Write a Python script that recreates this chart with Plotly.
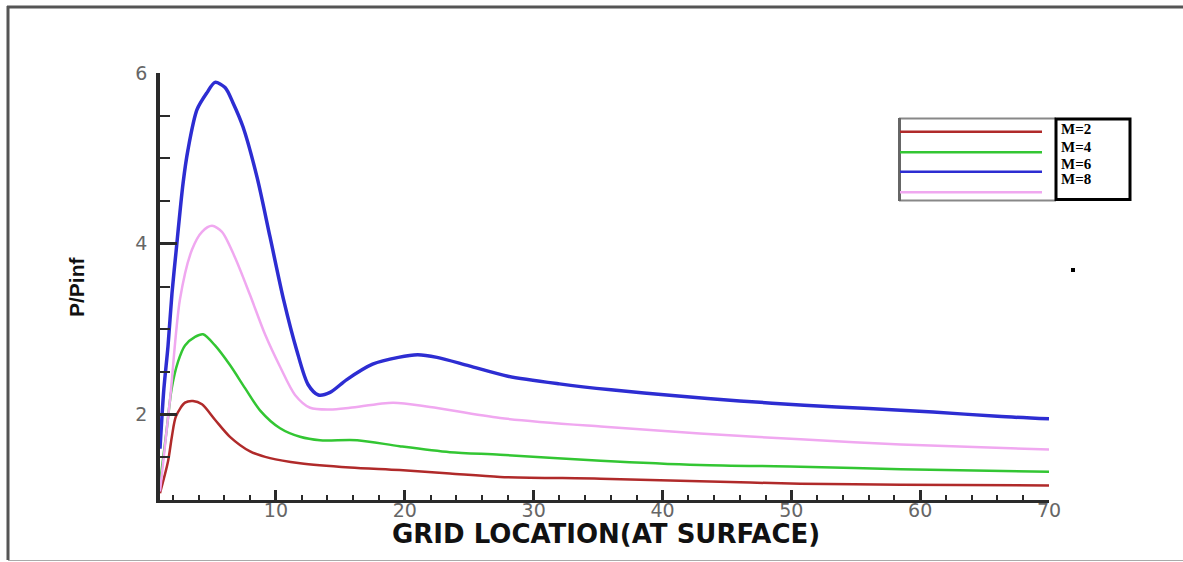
import plotly.graph_objects as go

# ---------------- data ----------------
x_m2 = [1.0, 1.62, 1.93, 2.24, 2.94, 3.56, 4.26, 5.27, 6.43, 7.99, 9.54, 11.87, 15.75, 19.6, 23.5, 27.4, 35.2, 42.9, 50.7, 58.5, 70.0]
y_m2 = [1.08, 1.45, 1.75, 1.98, 2.14, 2.16, 2.12, 1.94, 1.74, 1.57, 1.49, 1.43, 1.38, 1.35, 1.31, 1.27, 1.25, 1.22, 1.19, 1.18, 1.17]

x_m4 = [1.0, 1.5, 1.9, 2.4, 2.94, 3.72, 4.34, 5.27, 6.43, 7.6, 8.76, 10.32, 11.87, 13.42, 16.3, 19.6, 23.5, 27.4, 35.2, 42.9, 50.7, 58.5, 70.0]
y_m4 = [1.2, 1.8, 2.3, 2.62, 2.81, 2.91, 2.94, 2.81, 2.58, 2.31, 2.05, 1.84, 1.74, 1.70, 1.70, 1.63, 1.56, 1.53, 1.46, 1.41, 1.39, 1.36, 1.33]

x_m6 = [1.0, 1.3, 1.62, 1.93, 2.24, 2.79, 3.17, 3.87, 4.65, 5.27, 6.05, 6.67, 7.44, 8.53, 9.54, 10.6, 11.6, 12.5, 13.3, 14.2, 15.5, 17.5, 19.5, 21.0, 22.5, 25.0, 28.0, 32.0, 36.0, 41.0, 46.0, 51.0, 56.0, 61.0, 66.0, 70.0]
y_m6 = [1.6, 2.3, 2.8, 3.42, 3.9, 4.71, 5.1, 5.57, 5.77, 5.89, 5.83, 5.65, 5.37, 4.78, 4.08, 3.34, 2.76, 2.35, 2.23, 2.26, 2.41, 2.59, 2.67, 2.70, 2.67, 2.57, 2.45, 2.36, 2.29, 2.22, 2.16, 2.11, 2.07, 2.03, 1.98, 1.95]

x_m8 = [1.0, 1.78, 2.55, 3.48, 4.26, 5.04, 5.81, 6.82, 7.99, 9.15, 10.32, 11.48, 12.65, 14.2, 15.75, 19.09, 21.96, 27.4, 35.2, 42.9, 50.7, 58.5, 70.0]
y_m8 = [1.1, 2.18, 3.35, 3.93, 4.14, 4.21, 4.14, 3.84, 3.4, 2.94, 2.56, 2.23, 2.08, 2.06, 2.08, 2.14, 2.09, 1.96, 1.86, 1.78, 1.71, 1.65, 1.59]

series_names = ["M=2", "M=4", "M=6", "M=8"]
x_tick_vals = [10, 20, 30, 40, 50, 60, 70]
y_tick_vals = [2, 4, 6]

# ---------------- styles ----------------
colors = ["#b02a2a", "#33c633", "#2d2dd2", "#f0a8f0"]
widths = [2.5, 2.5, 3.5, 2.5]

W, H = 1183, 562
L, R, T, B = 160, 1049, 73, 500


def px(xp):
    return (xp - L) / (R - L)


def py(yp):
    return (B - yp) / (B - T)


fig = go.Figure()
for xs, ys, name, c, w in zip([x_m2, x_m4, x_m6, x_m8], [y_m2, y_m4, y_m6, y_m8],
                              series_names, colors, widths):
    fig.add_trace(go.Scatter(x=xs, y=ys, mode="lines", name=name,
                             line=dict(color=c, width=w, shape="spline", smoothing=0.8),
                             showlegend=False))

tickfont = dict(family="DejaVu Sans", size=19, color="#666666")

fig.update_xaxes(range=[1, 70], showline=True, linewidth=3, linecolor="#2a2a2a",
                 ticks="inside", ticklen=10, tickwidth=2.5, tickcolor="#2a2a2a",
                 tickvals=x_tick_vals, ticktext=[str(v) for v in x_tick_vals],
                 minor=dict(dtick=2, tick0=0, ticks="inside", ticklen=5, tickwidth=1.5, tickcolor="#2a2a2a"),
                 tickfont=tickfont, showgrid=False, zeroline=False, ticklabelstandoff=-9)
fig.update_yaxes(range=[1, 6], showline=True, linewidth=3.5, linecolor="#2a2a2a",
                 ticks="inside", ticklen=17, tickwidth=2.5, tickcolor="#2a2a2a",
                 tickvals=y_tick_vals, ticktext=[str(v) for v in y_tick_vals],
                 minor=dict(dtick=0.5, tick0=0, ticks="inside", ticklen=10, tickwidth=1.5, tickcolor="#2a2a2a"),
                 tickfont=tickfont, showgrid=False, zeroline=False, ticklabelstandoff=5)

shapes = []
# outer frame
shapes.append(dict(type="line", xref="paper", yref="paper", x0=px(7), x1=px(1183), y0=py(7), y1=py(7),
                   line=dict(color="#555555", width=3)))
shapes.append(dict(type="line", xref="paper", yref="paper", x0=px(8), x1=px(8), y0=py(6), y1=py(560),
                   line=dict(color="#555555", width=3)))
shapes.append(dict(type="line", xref="paper", yref="paper", x0=px(8), x1=px(1183), y0=py(560.5), y1=py(560.5),
                   line=dict(color="#aaaaaa", width=1)))
# legend frames
for y0 in (118.5, 200.5):
    shapes.append(dict(type="line", xref="paper", yref="paper", x0=px(899), x1=px(1056), y0=py(y0), y1=py(y0),
                       line=dict(color="#888888", width=2)))
shapes.append(dict(type="line", xref="paper", yref="paper", x0=px(899.5), x1=px(899.5), y0=py(118), y1=py(201),
                   line=dict(color="#666666", width=3)))
shapes.append(dict(type="rect", xref="paper", yref="paper", x0=px(1056), x1=px(1130), y0=py(119), y1=py(199.5),
                   line=dict(color="black", width=3)))
legend_line_y = [131.7, 152.3, 171.7, 192.3]
for yl, c in zip(legend_line_y, colors):
    shapes.append(dict(type="line", xref="paper", yref="paper", x0=px(900), x1=px(1042), y0=py(yl), y1=py(yl),
                       line=dict(color=c, width=2.5)))
# small dot
shapes.append(dict(type="rect", xref="paper", yref="paper", x0=px(1071), x1=px(1075), y0=py(268), y1=py(272),
                   fillcolor="black", line=dict(width=0)))

annotations = []
legend_text_y = [129, 146.5, 163.5, 178.5]
for t, yt in zip(series_names, legend_text_y):
    annotations.append(dict(text="<b>%s</b>" % t, xref="paper", yref="paper", x=px(1059), y=py(yt),
                            xanchor="left", yanchor="middle", showarrow=False,
                            font=dict(family="Liberation Serif", size=15, color="black")))
annotations.append(dict(text="<b>GRID LOCATION(AT SURFACE)</b>", xref="paper", yref="paper",
                        x=px(606), y=py(534), xanchor="center", yanchor="middle", showarrow=False,
                        font=dict(family="DejaVu Sans", size=26, color="#111111")))
annotations.append(dict(text="<b>P/Pinf</b>", xref="paper", yref="paper", textangle=-90,
                        x=px(76), y=py(287), xanchor="center", yanchor="middle", showarrow=False,
                        font=dict(family="Liberation Sans Narrow, Liberation Sans", size=21, color="#111111")))

fig.update_layout(width=W, height=H, margin=dict(l=L, r=W - R, t=T, b=H - B),
                  paper_bgcolor="white", plot_bgcolor="white",
                  shapes=shapes, annotations=annotations)

fig.write_html("out.html")
